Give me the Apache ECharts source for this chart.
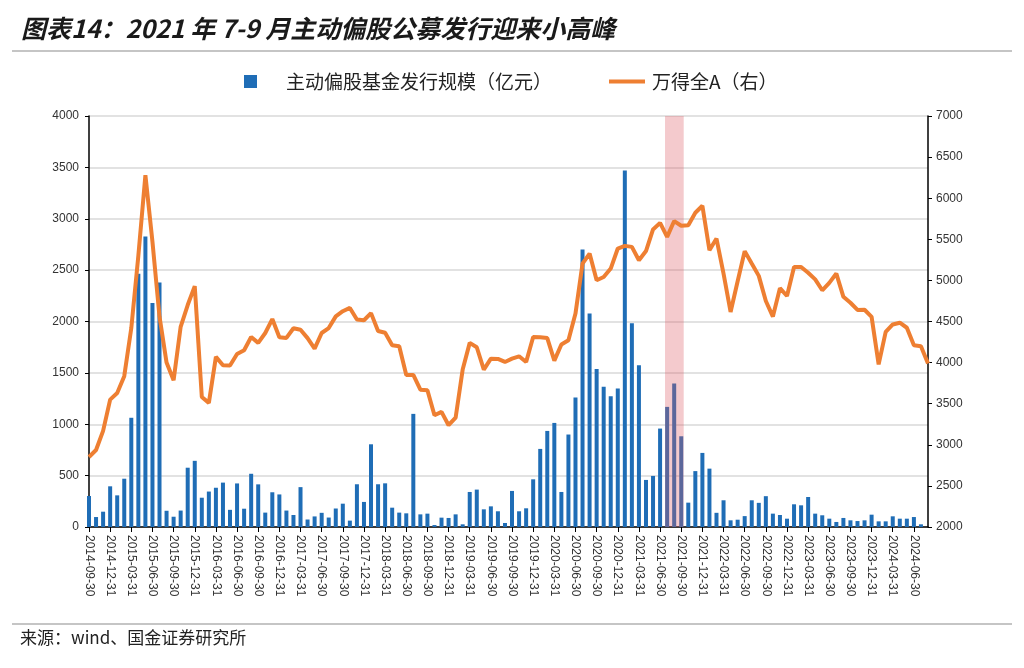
<!DOCTYPE html>
<html>
<head>
<meta charset="utf-8">
<script src="https://cdn.jsdelivr.net/npm/echarts@6/dist/echarts.min.js"></script>
<style>
html,body{margin:0;padding:0;background:#fff;}
#c{width:1024px;height:668px;}
</style>
</head>
<body>
<div id="c"></div>
<script>
// ---- data ----
const startYear = 2014, startMonth = 9, monthCount = 120; // 2014-09 .. 2024-08 (month-end dates)
const categories = [];
for (let i = 0; i < monthCount; i++) {
  const y = startYear + Math.floor((startMonth - 1 + i) / 12);
  const m = (startMonth - 1 + i) % 12 + 1;
  const d = new Date(y, m, 0).getDate();
  categories.push(y + '-' + String(m).padStart(2, '0') + '-' + String(d).padStart(2, '0'));
}

const issuance = [ // 主动偏股基金发行规模（亿元）
  302, 97, 149, 396, 308, 470, 1063, 2465, 2828, 2180, 2380, 158,
  100, 160, 577, 644, 285, 345, 382, 432, 167, 424, 178, 518,
  415, 140, 338, 317, 160, 117, 388, 73, 103, 138, 92, 180,
  227, 62, 416, 244, 805, 416, 425, 188, 140, 133, 1101, 123,
  130, 19, 91, 88, 123, 26, 341, 364, 172, 201, 153, 39,
  351, 153, 182, 464, 760, 935, 1013, 341, 900, 1260, 2701, 2077,
  1537, 1365, 1272, 1347, 3470, 1983, 1574, 458, 497, 958, 1169, 1396,
  883, 237, 544, 721, 568, 138, 260, 65, 71, 106, 260, 235,
  300, 130, 117, 81, 221, 211, 292, 130, 114, 81, 49, 88,
  65, 58, 65, 120, 55, 55, 104, 81, 81, 97, 26, null
];

const windA = [ // 万得全A（右）
  2852, 2937, 3170, 3550, 3630, 3835, 4420, 5300, 6280, 5470, 4560, 4000,
  3785, 4435, 4700, 4930, 3582, 3510, 4070, 3968, 3965, 4105, 4150, 4312,
  4240, 4360, 4530, 4308, 4300, 4418, 4400, 4298, 4170, 4360, 4420, 4562,
  4625, 4665, 4525, 4515, 4602, 4385, 4363, 4211, 4200, 3850, 3850, 3670,
  3663, 3360, 3400, 3238, 3330, 3915, 4240, 4187, 3915, 4048, 4045, 4008,
  4048, 4077, 4008, 4312, 4308, 4298, 4024, 4221, 4272, 4596, 5204, 5327,
  5002, 5042, 5144, 5388, 5420, 5408, 5245, 5357, 5620, 5700, 5530, 5722,
  5665, 5671, 5823, 5908, 5367, 5509, 5083, 4616, 4990, 5356, 5205, 5055,
  4750, 4560, 4906, 4810, 5164, 5164, 5093, 5012, 4880, 4970, 5083, 4800,
  4728, 4641, 4643, 4556, 3978, 4373, 4464, 4485, 4424, 4211, 4200, 3988
];

const shadeStart = '2021-07-31', shadeEnd = '2021-09-30';
const barName = '主动偏股基金发行规模（亿元）';
const lineName = '万得全A（右）';
const titleText = '图表14：2021 年 7-9 月主动偏股公募发行迎来小高峰';
const sourceText = '来源：wind、国金证券研究所';

// ---- chart ----
const chart = echarts.init(document.getElementById('c'));
const cjk = '"Noto Sans CJK SC", "Noto Sans", sans-serif';
const latin = '"Liberation Sans", Arial, sans-serif';
const plain = function (v) { return String(v); };

chart.setOption({
  animation: false,
  backgroundColor: '#fff',
  title: {
    text: titleText,
    left: 16, top: 11,
    textStyle: { fontFamily: cjk, fontSize: 25, fontWeight: 'bold', fontStyle: 'italic', color: '#1a1a1a' }
  },
  graphic: [
    { type: 'line', shape: { x1: 12, y1: 51, x2: 1012, y2: 51 }, style: { stroke: '#8c8c8c', lineWidth: 1.2 } },
    { type: 'line', shape: { x1: 12, y1: 624, x2: 1012, y2: 624 }, style: { stroke: '#8c8c8c', lineWidth: 1.2 } },
    { type: 'text', left: 20, top: 629, style: { text: sourceText, font: '17px ' + cjk, fill: '#222' } }
  ],
  legend: [
    {
      data: [barName], left: 239, top: 67, itemWidth: 13, itemHeight: 13, icon: 'rect',
      textStyle: { fontFamily: cjk, fontSize: 19, color: '#222', padding: [0, 0, 0, 24] }
    },
    {
      data: [lineName], left: 604, top: 67, itemWidth: 36, itemHeight: 4, icon: 'rect',
      textStyle: { fontFamily: cjk, fontSize: 19, color: '#222', padding: [0, 0, 0, 2] }
    }
  ],
  grid: { left: 89, right: 96, top: 116, bottom: 141, containLabel: false },
  xAxis: {
    type: 'category',
    data: categories,
    boundaryGap: false,
    axisLine: { lineStyle: { color: '#000', width: 1.5 } },
    axisTick: { interval: 2, length: 5, lineStyle: { color: '#000' } },
    axisLabel: { interval: 2, rotate: -90, margin: 8, fontFamily: latin, fontSize: 12, color: '#333' },
    splitLine: { show: false }
  },
  yAxis: [
    {
      type: 'value', min: 0, max: 4000, interval: 500,
      axisLine: { show: true, lineStyle: { color: '#000', width: 1.5 } },
      axisTick: { show: true, length: 4, lineStyle: { color: '#000' } },
      axisLabel: { fontFamily: latin, fontSize: 12, color: '#333', margin: 10, formatter: plain },
      splitLine: { lineStyle: { color: '#d9d9d9', width: 1.5 } }
    },
    {
      type: 'value', min: 2000, max: 7000, interval: 500,
      axisLine: { show: true, lineStyle: { color: '#000', width: 1.5 } },
      axisTick: { show: true, length: 4, lineStyle: { color: '#000' } },
      axisLabel: { fontFamily: latin, fontSize: 12, color: '#333', margin: 8, formatter: plain },
      splitLine: { show: false }
    }
  ],
  series: [
    {
      name: barName, type: 'bar', data: issuance, yAxisIndex: 0,
      barWidth: 4, z: 2,
      itemStyle: { color: '#1f6db6' }
    },
    {
      name: 'shade', type: 'custom', yAxisIndex: 0, z: 3, silent: true,
      data: [[categories.indexOf(shadeStart), categories.indexOf(shadeEnd)]],
      renderItem: function (params, api) {
        const a = api.coord([api.value(0), 4000]);
        const b = api.coord([api.value(1), 0]);
        const step = api.coord([1, 0])[0] - api.coord([0, 0])[0];
        const x0 = a[0] - step * 0.3, x1 = b[0] + step * 0.35;
        return {
          type: 'rect',
          shape: { x: x0, y: a[1], width: x1 - x0, height: b[1] - a[1] },
          style: { fill: 'rgba(222,90,100,0.32)' }
        };
      }
    },
    {
      name: lineName, type: 'line', data: windA, yAxisIndex: 1,
      symbol: 'none', z: 4,
      lineStyle: { color: '#ee7f32', width: 4 },
      itemStyle: { color: '#ee7f32' }
    }
  ]
});
</script>
</body>
</html>
